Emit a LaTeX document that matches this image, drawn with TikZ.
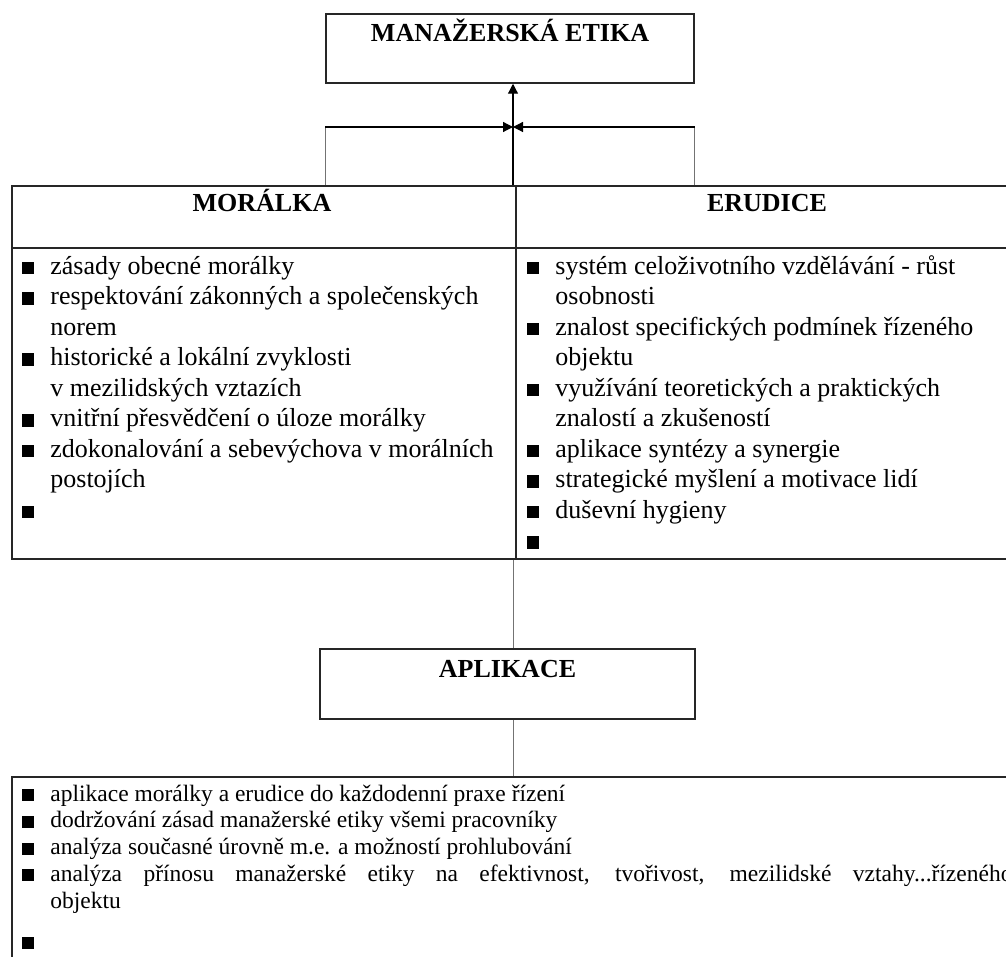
\documentclass[tikz,border=0pt]{standalone}
\usepackage{fontspec}
\setmainfont{Liberation Serif}
\usetikzlibrary{arrows.meta}
\usetikzlibrary{positioning}
\newcommand{\sqb}{\makebox[14pt][l]{\rule{6pt}{6pt}}}
\newcommand{\cont}{\hspace*{14pt}}
\tikzstyle{frame_box} = [
    draw=black!85, 
    line width=0.75pt, 
    inner sep=0pt
]
\tikzstyle{head_text} = [
    font=\fontsize{13}{15}\selectfont\bfseries, 
    anchor=base, 
    inner sep=0pt
]
\tikzstyle{list_text} = [
    anchor=base west, 
    inner sep=0pt % first baseline sits on the coordinate
]
\tikzstyle{link} = [
    draw=black!55, 
    line width=0.5pt
]
\tikzstyle{arrow_link} = [
    draw=black, 
    line width=0.6pt, 
    -{Triangle[length=5pt, width=5pt]}
]

\begin{document}
\begin{tikzpicture}[x=0.5pt, y=-0.5pt]
\useasboundingbox (0,0) rectangle (1006,957);
\clip (0,0) rectangle (1006,957);

\node [frame_box, minimum width=184pt, minimum height=34.5pt] (etika) at (510,48.5) {};
\node [frame_box, minimum width=509pt, minimum height=186.5pt] (tab) at (521,372.5) {};
\node [frame_box, minimum width=187.5pt, minimum height=35pt] (apl) at (507.5,684) {};
\node [frame_box, minimum width=509pt, minimum height=111.5pt] (bot) at (521,888.5) {};

\coordinate (hd) at (0,248);
\coordinate (mid) at (516,0);
\coordinate (jn) at (513,127);
\draw [frame_box] (tab.west |- hd) -- (tab.east |- hd);
\draw [frame_box] (mid |- tab.north) -- (mid |- tab.south);

\node [head_text] (etikaTitle) at (510,42) {MANAŽERSKÁ ETIKA};
\node [head_text] (morTitle) at (262,212) {MORÁLKA};
\node [head_text] (eruTitle) at (767,212) {ERUDICE};
\node [head_text] (aplTitle) at (507.5,677) {APLIKACE};

% connectors
\draw [link] (tab.north -| etika.west) -- (jn -| etika.west);
\draw [arrow_link] (jn -| etika.west) -- (jn);
\draw [link] (tab.north -| etika.east) -- (jn -| etika.east);
\draw [arrow_link] (jn -| etika.east) -- (jn);
\draw [arrow_link] (tab.north -| jn) -- (etika.south -| jn);
\draw [link] (tab.south -| jn) -- (apl.north -| jn);
\draw [link] (apl.south -| jn) -- (bot.north -| jn);

\node [list_text] (morList) at (22,274) {\parbox[t]{240pt}{\fontsize{13}{15.25}\selectfont
\sqb zásady obecné morálky\\
\sqb respektování zákonných a společenských\\
\cont norem\\
\sqb historické a lokální zvyklosti\\
\cont v mezilidských vztazích\\
\sqb vnitřní přesvědčení o úloze morálky\\
\sqb zdokonalování a sebevýchova v morálních\\
\cont postojích\\
\sqb}};

\node [list_text] (eruList) at (527,274) {\parbox[t]{240pt}{\fontsize{13}{15.25}\selectfont
\sqb systém celoživotního vzdělávání - růst\\
\cont osobnosti\\
\sqb znalost specifických podmínek řízeného\\
\cont objektu\\
\sqb využívání teoretických a praktických\\
\cont znalostí a zkušeností\\
\sqb aplikace syntézy a synergie\\
\sqb strategické myšlení a motivace lidí\\
\sqb duševní hygieny\\
\sqb}};

\node [list_text] (aplList) at (22,801) {\parbox[t]{500pt}{\fontsize{11.75}{13.4}\selectfont
\sqb aplikace morálky a erudice do každodenní praxe řízení\\
\sqb dodržování zásad manažerské etiky všemi pracovníky\\
\sqb analýza současné úrovně m.e. a možností prohlubování\\
\sqb \makebox[481pt][s]{analýza přínosu manažerské etiky na efektivnost, tvořivost, mezilidské vztahy...řízeného}\\
\cont objektu\\[7pt]
\sqb}};
\end{tikzpicture}
\end{document}
